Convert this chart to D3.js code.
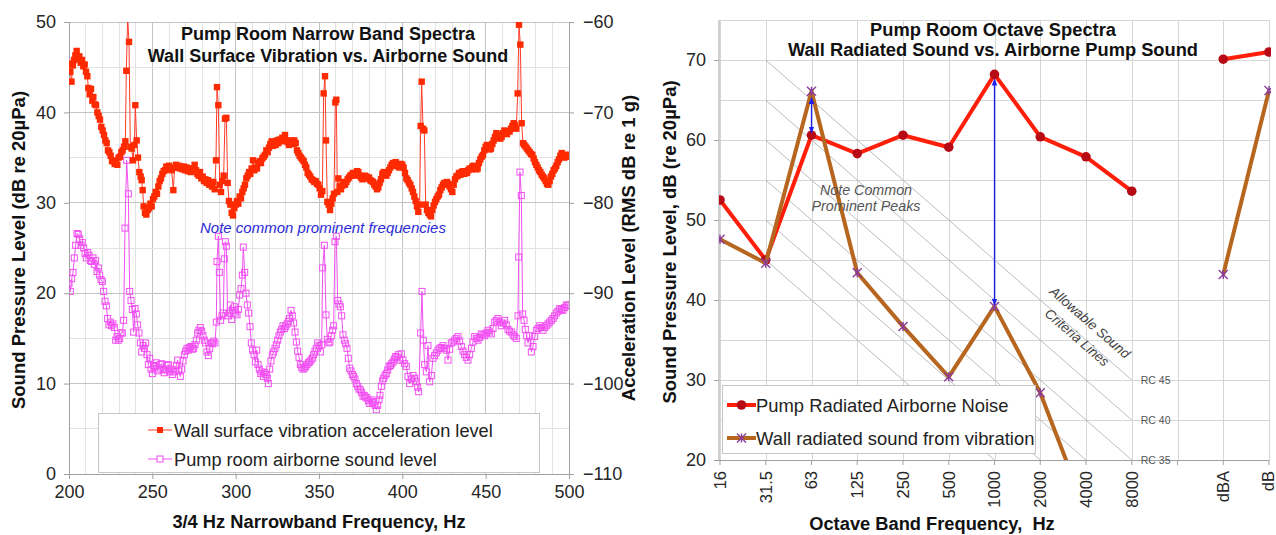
<!DOCTYPE html>
<html><head><meta charset="utf-8">
<script src="https://cdn.jsdelivr.net/npm/d3@7"></script>
<style>
body{margin:0;background:#fff}
svg{display:block}
text{font-family:"Liberation Sans",Arial,sans-serif}
</style>
</head><body>
<svg id="chart" width="1276" height="535"></svg>
<script>
// ===================== DATA =====================
// Left chart: narrowband spectra
const nbTicks = [200,250,300,350,400,450,500];
const splTicks = [0,10,20,30,40,50];
const accTicks = [-110,-100,-90,-80,-70,-60];

const vibFreq = [200,200.8,201.5,202.3,203,203.8,204.6,205.4,206.2,207,207.8,208.6,209.4,210.2,211,211.6,212.4,213.2,214,214.6,215.4,216.2,217,217.8,218.6,219.4,220.2,221,221.8,222.6,223.4,224.2,225,225.8,226.6,227.4,228.2,229,229.8,230.6,231.4,232.2,233,233.8,234.4,235.2,236,236.8,237.6,238.4,239.2,239.8,240.6,241.4,242.2,243,243.6,244.2,244.8,245.6,246.4,247.2,248,248.8,249.6,250.4,251.2,252,252.8,253.6,254.4,255.2,256,256.8,257.6,258.4,259.2,260,260.8,261.6,262.6,263.4,264.2,265,265.8,266.6,267.4,268.2,269,269.8,270.6,271.4,272.2,273,273.8,274.6,275.4,276.2,277,277.8,278.6,279.4,280.2,281,281.8,282.6,283.4,284.2,285,285.8,286.6,287.4,288.2,288.8,289.6,290.4,291.2,292,292.8,293.6,294.4,295.2,296,296.8,297.6,298.4,299.2,300,300.8,301.6,302.4,303.2,304,304.8,305.6,306.4,307.2,308,308.8,309.6,310.4,311.2,312,312.8,313.6,314.4,315.2,316,316.8,317.6,318.4,319.2,320,320.8,321.6,322.4,323.2,324,324.8,325.6,326.4,327.2,328,328.8,329.6,330.4,331.2,332,332.8,333.6,334.4,335.2,336,336.8,337.6,338.4,339.2,340,340.8,341.6,342.4,343.2,344,344.8,345.6,346.4,347.2,348,348.8,349.6,350.4,351.2,352,352.8,353.6,354.2,355,355.8,356.6,357.4,358.2,359,359.8,360.4,361,361.6,362.4,363.2,364,364.8,365.6,366.4,367.2,368,368.8,369.6,370.4,371.2,372,372.8,373.6,374.4,375.2,376,376.8,377.6,378.4,379.2,380,380.8,381.6,382.4,383.2,384,384.8,385.6,386.4,387.2,388,388.8,389.6,390.4,391.2,392,392.8,393.6,394.4,395.2,396,396.8,397.6,398.4,399.2,400,400.8,401.6,402.4,403.2,404,404.8,405.6,406.4,407.2,408,408.8,409.6,410.4,411,411.6,412.4,413.2,414,414.8,415.6,416.4,417.2,418,418.8,419.6,420.4,421.2,422,422.8,423.6,424.4,425.2,426,426.8,427.6,428.4,429.2,430,430.8,431.6,432.4,433.2,434,434.8,435.6,436.4,437.2,438,438.8,439.6,440.4,441.2,442,442.8,443.6,444.4,445.2,446,446.8,447.6,448.4,449.2,450,450.8,451.6,452.4,453.2,454,454.8,455.6,456.4,457.2,458,458.8,459.6,460.4,461.2,462,462.8,463.6,464.4,465.2,466,466.8,467.6,468.4,469.2,470,470.8,471.6,472.4,473.2,474,474.8,475.6,476.4,477.2,478,478.8,479.6,480.4,481.2,482,482.8,483.6,484.4,485.2,486,486.8,487.6,488.4,489.2,490,490.8,491.6,492.4,493.2,494,494.8,495.6,496.4,497.2,498,498.8,499.6];
const vibAccel = [-64.6,-65.5,-66.6,-64.8,-64.2,-63.7,-63.2,-64.1,-63.8,-64.5,-64.2,-64.9,-64.7,-65.5,-66.0,-67.3,-68.0,-67.4,-68.7,-68.3,-69.1,-69.2,-70.0,-70.4,-70.8,-71.6,-72.0,-72.5,-73.1,-73.4,-74.2,-74.4,-74.8,-75.4,-75.3,-75.7,-75.5,-75.8,-75.0,-74.9,-74.4,-74.2,-73.8,-73.2,-65.4,-59.5,-62.2,-73.8,-74.0,-75.3,-73.6,-69.2,-73.1,-75.0,-76.6,-77.1,-77.5,-78.6,-80.4,-81.1,-81.3,-80.8,-80.6,-80.1,-80.4,-79.6,-79.3,-78.8,-79.0,-78.2,-77.6,-77.3,-76.8,-76.5,-76.4,-76.0,-76.3,-75.9,-76.2,-76.4,-78.6,-76.1,-75.8,-76.1,-75.9,-76.2,-76.0,-76.3,-76.0,-76.4,-76.1,-76.5,-76.2,-76.6,-76.2,-76.5,-75.8,-76.4,-76.8,-77.0,-76.6,-77.3,-77.1,-77.6,-77.4,-77.8,-77.5,-78.0,-77.7,-78.2,-77.7,-78.5,-75.3,-67.2,-69.2,-78.0,-78.8,-77.6,-77.0,-70.7,-70.6,-77.8,-79.8,-80.2,-81.1,-81.4,-80.6,-80.2,-79.8,-80.1,-79.3,-79.5,-78.8,-78.4,-78.0,-77.3,-77.0,-76.6,-76.8,-76.2,-75.3,-76.4,-76.1,-76.2,-75.6,-75.4,-75.6,-75.1,-74.9,-74.7,-74.2,-74.4,-73.9,-73.5,-73.2,-73.7,-73.4,-73.6,-73.1,-73.4,-73.0,-73.2,-72.8,-73.0,-72.5,-73.1,-73.3,-73.6,-73.4,-73.1,-73.5,-73.1,-73.4,-74.2,-74.5,-74.8,-75.0,-75.2,-75.4,-75.8,-76.1,-76.7,-76.9,-77.1,-77.4,-77.5,-77.7,-77.6,-77.9,-78.0,-78.4,-79.1,-78.7,-67.9,-66.0,-73.1,-79.9,-80.2,-80.8,-80.1,-79.5,-79.0,-68.9,-68.6,-78.8,-77.3,-78.2,-78.5,-78.1,-77.7,-78.0,-77.7,-77.4,-77.2,-77.0,-76.9,-76.7,-77.0,-76.8,-76.5,-76.6,-77.0,-77.2,-77.4,-77.3,-77.0,-77.1,-77.3,-77.2,-77.5,-77.6,-77.7,-78.0,-78.2,-78.5,-78.3,-77.8,-77.4,-76.8,-76.6,-76.9,-77.0,-76.7,-76.4,-76.1,-75.8,-75.6,-75.9,-75.5,-75.8,-76.0,-76.1,-75.7,-75.8,-76.1,-76.7,-77.3,-77.5,-77.8,-78.0,-78.4,-78.8,-79.3,-79.8,-80.4,-81.0,-80.2,-71.5,-66.6,-71.8,-72.0,-80.2,-80.8,-81.1,-81.3,-81.5,-80.8,-80.3,-79.9,-79.6,-79.3,-79.1,-78.6,-78.3,-78.0,-77.8,-78.0,-77.7,-77.9,-78.2,-78.5,-78.8,-78.0,-77.4,-77.1,-77.0,-76.7,-76.9,-76.6,-76.5,-76.8,-76.6,-76.7,-76.4,-76.2,-76.3,-76.0,-75.9,-76.1,-76.3,-76.2,-75.6,-75.2,-74.9,-74.7,-74.2,-73.8,-73.6,-73.9,-74.1,-74.0,-73.5,-73.1,-72.7,-72.3,-72.5,-72.8,-72.9,-72.7,-72.3,-72.0,-72.2,-72.4,-72.1,-72.1,-71.8,-71.5,-71.2,-71.4,-71.8,-67.9,-60.3,-62.5,-71.2,-73.4,-73.6,-73.8,-74.0,-74.2,-74.4,-74.6,-74.7,-75.1,-75.5,-75.8,-76.1,-76.4,-76.6,-76.9,-77.1,-77.3,-77.6,-77.9,-78.0,-77.6,-77.1,-76.8,-76.4,-76.2,-75.9,-75.5,-75.2,-74.8,-74.5,-74.8,-75.0,-74.7,-74.9,-74.7];

const airFreq = [200,200.8,201.6,202.4,203.2,204,204.8,205.6,206.4,207.2,208,208.8,209.6,210.4,211.2,212,212.8,213.6,214.4,215.2,216,216.8,217.6,218.4,219.2,220,220.8,221.6,222.4,223.2,224,224.8,225.6,226.4,227.2,228,228.8,229.6,230.4,231.2,232,232.8,233.6,234.6,235.6,236.4,237.2,238,238.8,239.6,240.4,241.2,242,242.8,243.6,244.4,245.2,246,246.8,247.6,248.4,249.2,250,250.8,251.6,252.4,253.2,254,254.8,255.6,256.4,257.2,258,258.8,259.6,260.4,261.2,262,262.8,263.6,264.4,265.2,266,266.8,267.6,268.4,269.2,270,270.8,271.6,272.4,273.2,274,274.8,275.6,276.4,277.2,278,278.8,279.6,280.4,281.2,282,282.8,283.6,284.4,285.2,286,286.8,287.6,288.4,288.8,289.6,290.2,291,291.8,292.6,293.2,293.8,294.4,295.2,296,296.8,297.6,298.4,299.2,300,300.8,301.6,302.4,303.2,304,304.6,305.4,306.2,307,307.8,308.6,309.4,310.2,311,311.8,312.6,313.4,314.2,315,315.8,316.6,317.4,318.2,319,319.6,320.4,321.2,322,322.8,323.6,324.4,325.2,326,326.8,327.6,328.4,329.2,330,330.8,331.6,332.4,333.2,334,334.8,335.6,336.4,337.2,338,338.8,339.6,340.4,341.2,342,342.8,343.6,344.4,345.2,346,346.8,347.6,348.4,349.2,350,350.8,351.6,352.2,353.2,354.2,355,355.8,356.6,357.4,358.2,358.8,359.6,360.4,361.2,362,362.8,363.6,364.4,365.2,366,366.8,367.6,368.4,369.2,370,370.8,371.6,372.4,373.2,374,374.8,375.6,376.4,377.2,378,378.8,379.6,380.4,381.2,382,382.8,383.6,384.4,385.2,386,386.6,387.4,388.2,388.8,389.6,390.4,391.2,392,392.8,393.6,394.4,395.2,396,396.8,397.6,398.4,399.4,400.4,401.4,402.4,403.4,404.4,405.4,406.4,407.4,408.4,409.2,409.8,411,411.8,412.6,413.4,414.4,415.4,416.4,417.4,418.4,419.4,420.4,421.4,422.4,423.4,424.4,425.4,426.4,427.4,428.4,429.4,430.4,431.4,432.4,433.4,434.4,435.4,436.4,437.4,438.4,439.4,440.4,441.4,442.4,443.4,444.4,445.4,446.4,447.4,448.4,449.4,450.4,451.4,452.4,453.4,454.4,455.4,456.4,457.4,458.4,459.4,460.4,461.4,462.4,463.4,464.4,465.4,466.4,467.4,468.4,469.4,469.8,470.6,471.4,472.2,473,473.8,474.6,475.4,476.4,477.4,478.4,479.4,480.4,481.4,482.4,483.4,484.4,485.4,486.4,487.4,488.4,489.4,490.4,491.4,492.4,493.4,494.4,495.4,496.4,497.4,498.4,499.2,500];
const airSPL = [21.1,20.2,21.6,22.3,23.9,25.3,26.6,26.5,26.0,25.3,25.6,25.0,24.4,23.9,24.5,24.2,23.6,23.5,23.9,23.2,23.6,22.4,22.8,22.0,21.5,21.3,20.2,19.1,18.6,17.2,16.5,16.8,16.4,16.6,16.2,14.8,15.2,14.8,15.0,15.6,15.6,17.0,27.2,34.7,31.0,20.2,19.2,18.2,15.7,18.3,17.7,16.5,15.6,14.5,13.5,14.2,13.9,14.5,13.2,12.1,12.8,11.6,11.1,12.0,11.9,12.3,11.4,11.6,12.1,12.2,11.6,11.2,11.5,12.0,12.1,11.3,11.6,11.0,11.3,11.5,12.0,12.6,11.4,10.8,11.6,12.5,13.2,13.6,13.9,13.7,14.0,14.1,13.8,13.9,14.3,14.8,15.6,15.9,16.2,15.8,15.3,14.8,14.5,13.5,13.1,13.9,14.5,14.4,14.7,14.5,16.8,23.5,26.3,22.3,17.0,17.5,17.8,23.8,25.7,25.2,17.5,17.8,18.7,17.1,18.1,18.5,17.8,17.6,18.2,19.8,20.5,22.0,25.1,22.3,20.0,18.7,17.8,16.3,14.5,13.7,13.2,12.4,13.7,12.1,11.6,11.1,11.3,10.8,11.2,11.0,10.6,10.0,11.6,12.5,13.2,13.5,13.9,14.3,14.8,15.3,15.7,16.0,16.4,16.1,16.3,16.6,16.9,17.2,18.1,17.5,16.7,15.7,14.6,13.6,12.9,12.1,11.8,11.6,11.7,11.9,12.1,12.3,12.4,12.6,12.8,13.2,13.6,13.9,14.5,14.2,13.5,14.3,22.8,25.3,17.6,14.9,14.5,14.6,15.3,15.9,16.4,25.7,26.3,19.2,18.8,18.5,17.5,15.4,14.8,14.4,13.9,12.8,11.7,11.4,11.0,10.8,10.5,10.0,9.7,9.4,9.3,9.0,8.6,8.7,8.5,8.4,8.1,7.8,8.2,7.9,8.0,7.6,7.1,7.6,8.2,8.7,9.7,10.3,10.6,10.9,11.1,11.5,11.9,12.0,12.2,12.4,12.7,13.0,12.9,13.2,12.6,13.3,12.6,12.2,11.9,10.8,10.0,10.5,10.9,10.6,10.2,9.6,9.1,15.6,20.2,14.8,12.1,11.3,14.2,10.2,10.9,12.8,13.1,13.4,13.7,13.9,14.0,14.2,13.9,13.7,12.6,13.8,14.5,14.6,14.8,15.0,15.2,14.7,14.1,13.6,13.2,12.9,12.6,13.2,13.9,14.6,15.2,15.0,14.8,15.1,15.5,15.4,15.3,15.6,15.9,15.7,15.5,16.1,16.8,17.0,17.2,16.8,16.4,16.7,17.0,16.5,16.0,15.8,15.7,15.4,15.2,15.0,17.5,24.0,33.4,30.8,17.7,17.0,16.0,15.3,14.5,15.3,13.5,14.1,15.2,15.9,16.1,16.4,16.2,15.9,16.2,16.4,16.6,16.8,17.0,17.2,17.5,17.8,18.0,18.3,18.2,18.1,18.4,18.7,18.6,18.7];

const leftTitle = ["Pump Room Narrow Band Spectra", "Wall Surface Vibration vs. Airborne Sound"];
const leftLegend = ["Wall surface vibration acceleration level", "Pump room airborne sound level"];

// Right chart: octave spectra
const octaveBands = ["16","31.5","63","125","250","500","1000","2000","4000","8000"," ","dBA","dB"];
const pumpNoise  = [52.5,45.0,60.6,58.3,60.6,59.1,68.2,60.4,57.9,53.6,null,70.1,71.0];
const wallSound  = [47.6,44.6,66.1,43.4,36.7,30.4,39.2,28.4,13.5,6.0,null,43.2,66.2];
const octTicks = [20,30,40,50,60,70];
const rcLevels = [45,40,35,30,25,20];
const rcLabelled = [45,40,35];
const arrowBands = ["63","1000"];
const arrowLow = [60.9,39.4];
const arrowHigh = [65.3,67.6];
const rightTitle = ["Pump Room Octave Spectra", "Wall Radiated Sound vs. Airborne Pump Sound"];
const rightLegend = ["Pump Radiated Airborne Noise", "Wall radiated sound from vibration"];

// ===================== DRAW =====================
const svg = d3.select("#chart");
const defs = svg.append("defs");

// ---------- LEFT CHART ----------
const xL = d3.scaleLinear().domain([200,500]).range([69,569]);
const ySPL = d3.scaleLinear().domain([0,50]).range([474,22]);
const yAcc = d3.scaleLinear().domain([-110,-60]).range([474,22]);

defs.append("clipPath").attr("id","clipL").append("rect")
  .attr("x",69).attr("y",22).attr("width",500).attr("height",452);

const gL = svg.append("g");
const grid = gL.append("g").attr("shape-rendering","crispEdges");
grid.selectAll("line.v").data(d3.range(200,501,10)).join("line")
  .attr("x1",d=>xL(d)).attr("x2",d=>xL(d)).attr("y1",ySPL(0)).attr("y2",ySPL(50))
  .attr("stroke",d=>d%50===0?"#c4c4c4":"#e3e3e3");
grid.selectAll("line.h").data(d3.range(0,51,5)).join("line")
  .attr("x1",xL(200)).attr("x2",xL(500)).attr("y1",d=>ySPL(d)).attr("y2",d=>ySPL(d))
  .attr("stroke",d=>d%10===0?"#c4c4c4":"#e3e3e3");

function styleAxis(g, size){
  g.select(".domain").attr("stroke","#a0a0a0");
  g.selectAll(".tick line").attr("stroke","#a0a0a0");
  g.selectAll(".tick text").attr("fill","#262626").attr("font-size",size)
    .attr("font-family","'Liberation Sans',Arial,sans-serif");
}
gL.append("g").attr("transform","translate(69,0)")
  .call(d3.axisLeft(ySPL).tickValues(splTicks).tickSize(5).tickPadding(8).tickSizeOuter(0))
  .call(g=>styleAxis(g,18));
gL.append("g").attr("transform","translate(569,0)")
  .call(d3.axisRight(yAcc).tickValues(accTicks).tickSize(5).tickPadding(9).tickSizeOuter(0))
  .call(g=>styleAxis(g,18));
gL.append("g").attr("transform","translate(0,474)")
  .call(d3.axisBottom(xL).tickValues(nbTicks).tickSize(5).tickPadding(6).tickSizeOuter(0))
  .call(g=>styleAxis(g,18));

const series = gL.append("g").attr("clip-path","url(#clipL)");
const vibData = vibFreq.map((f,i)=>({f, v:vibAccel[i]}));
const airData = airFreq.map((f,i)=>({f, v:airSPL[i]}));

series.append("path").datum(airData)
  .attr("d", d3.line().x(d=>xL(d.f)).y(d=>ySPL(d.v)))
  .attr("fill","none").attr("stroke","#f050f0").attr("stroke-width",1);
series.selectAll("rect.air").data(airData).join("rect")
  .attr("x",d=>xL(d.f)-3).attr("y",d=>ySPL(d.v)-3).attr("width",6).attr("height",6)
  .attr("fill","none").attr("stroke","#f24ef2").attr("stroke-width",1);

series.append("path").datum(vibData)
  .attr("d", d3.line().x(d=>xL(d.f)).y(d=>yAcc(d.v)))
  .attr("fill","none").attr("stroke","#ff3c28").attr("stroke-width",1);
series.selectAll("rect.vib").data(vibData).join("rect")
  .attr("x",d=>xL(d.f)-3.2).attr("y",d=>yAcc(d.v)-3.2).attr("width",6.4).attr("height",6.4)
  .attr("fill","#ff2a00");

// titles
gL.selectAll("text.title").data(leftTitle).join("text")
  .attr("x",328).attr("y",(d,i)=>40+i*22).attr("text-anchor","middle")
  .attr("font-size",18).attr("font-weight","bold").attr("fill","#111").text(d=>d);

gL.append("text").attr("x",200).attr("y",233)
  .attr("font-family","'DejaVu Sans',Verdana,sans-serif").attr("font-style","italic")
  .attr("font-size",15).attr("fill","#2a2ad8").text("Note common prominent frequencies");

// legend
const legL = gL.append("g");
legL.append("rect").attr("x",98.5).attr("y",413.5).attr("width",441).attr("height",59)
  .attr("fill","#fff").attr("stroke","#c6c6c6");
leftLegend.forEach((t,i)=>{
  const y = 430 + i*29;
  const col = i===0 ? "#ff3c28" : "#f050f0";
  legL.append("line").attr("x1",148).attr("x2",172).attr("y1",y).attr("y2",y).attr("stroke",col);
  if(i===0) legL.append("rect").attr("x",157).attr("y",y-3).attr("width",6).attr("height",6).attr("fill","#ff2a00");
  else legL.append("rect").attr("x",157).attr("y",y-3).attr("width",6).attr("height",6).attr("fill","#fff").attr("stroke","#f24ef2");
  legL.append("text").attr("x",174).attr("y",y).attr("dy","0.36em").attr("font-size",18.2).attr("fill","#222").text(t);
});

// axis titles
gL.append("text").attr("transform","translate(25,250) rotate(-90)").attr("text-anchor","middle")
  .attr("font-size",18.5).attr("font-weight","bold").attr("fill","#111").text("Sound Pressure Level (dB re 20µPa)");
gL.append("text").attr("transform","translate(635,248) rotate(-90)").attr("text-anchor","middle")
  .attr("font-size",18.5).attr("font-weight","bold").attr("fill","#111").text("Acceleration Level (RMS dB re 1 g)");
gL.append("text").attr("x",319).attr("y",528).attr("text-anchor","middle")
  .attr("font-size",18.3).attr("font-weight","bold").attr("fill","#111").text("3/4 Hz Narrowband Frequency, Hz");

// ---------- RIGHT CHART ----------
const xO = d3.scalePoint().domain(octaveBands).range([720,1269]);
const yO = d3.scaleLinear().domain([20,75]).range([460,20]);
defs.append("clipPath").attr("id","clipR").append("rect")
  .attr("x",719).attr("y",19).attr("width",552).attr("height",441);

const gR = svg.append("g");
const gridR = gR.append("g").attr("shape-rendering","crispEdges");
gridR.selectAll("line.v").data(octaveBands).join("line")
  .attr("x1",d=>Math.round(xO(d))+0.5).attr("x2",d=>Math.round(xO(d))+0.5).attr("y1",yO(20)).attr("y2",yO(75))
  .attr("stroke","#d6d6d6");
gridR.selectAll("line.h").data(d3.range(20,76,5)).join("line")
  .attr("x1",xO("16")).attr("x2",xO("dB")).attr("y1",d=>yO(d)).attr("y2",d=>yO(d))
  .attr("stroke","#d6d6d6");

gR.append("g").attr("transform","translate(719,0)")
  .call(d3.axisLeft(yO).tickValues(octTicks).tickSize(5).tickPadding(8).tickSizeOuter(0))
  .call(g=>styleAxis(g,18))
  .call(g=>g.select(".domain").attr("d","M0,460V20"));
gR.append("line").attr("x1",719).attr("x2",1269).attr("y1",460.5).attr("y2",460.5).attr("stroke","#a0a0a0");
gR.selectAll("line.xt").data(octaveBands).join("line")
  .attr("x1",d=>xO(d)).attr("x2",d=>xO(d)).attr("y1",460).attr("y2",465).attr("stroke","#a0a0a0");
gR.selectAll("text.xl").data(octaveBands).join("text")
  .attr("transform",d=>`translate(${Math.min(xO(d),1268)},471) rotate(-90)`)
  .attr("text-anchor","end").attr("dy","0.36em").attr("font-size",16.5).attr("fill","#262626").text(d=>d);

const plotR = gR.append("g").attr("clip-path","url(#clipR)");
// RC criteria lines (-5 dB per octave, RC value at 1000 Hz)
const rcBands = octaveBands.slice(1,10);
plotR.selectAll("path.rc").data(rcLevels).join("path")
  .attr("d", rc => d3.line().x(b=>xO(b)).y(b=>yO(rc + 5*(6 - octaveBands.indexOf(b))))(rcBands))
  .attr("fill","none").attr("stroke","#bdbdbd").attr("stroke-width",1);

const pumpData = octaveBands.map((b,i)=>({b, v:pumpNoise[i]}));
const wallData = octaveBands.map((b,i)=>({b, v:wallSound[i]}));
const lineO = d3.line().defined(d=>d.v!=null).x(d=>xO(d.b)).y(d=>yO(d.v));

plotR.append("path").datum(pumpData).attr("d",lineO)
  .attr("fill","none").attr("stroke","#ff1e0a").attr("stroke-width",4).attr("stroke-linejoin","round");
plotR.selectAll("circle.p").data(pumpData.filter(d=>d.v!=null)).join("circle")
  .attr("cx",d=>xO(d.b)).attr("cy",d=>yO(d.v)).attr("r",4.8).attr("fill","#b80a14");

plotR.append("path").datum(wallData).attr("d",lineO)
  .attr("fill","none").attr("stroke","#b6661e").attr("stroke-width",4).attr("stroke-linejoin","round");
function star(g, x, y, s){
  g.append("path").attr("d",`M${x-s},${y-s}L${x+s},${y+s}M${x-s},${y+s}L${x+s},${y-s}M${x},${y-s}L${x},${y+s}`)
    .attr("stroke","#8a3c9c").attr("stroke-width",1.4).attr("fill","none");
}
wallData.filter(d=>d.v!=null && d.v>=20).forEach(d=>star(plotR, xO(d.b), yO(d.v), 4.5));

// arrows
const ah = defs.append("marker").attr("id","ah").attr("viewBox","0 0 10 10").attr("refX",9).attr("refY",5)
  .attr("markerWidth",7).attr("markerHeight",7).attr("orient","auto-start-reverse").attr("markerUnits","userSpaceOnUse");
ah.append("path").attr("d","M0,1L10,5L0,9Z").attr("fill","#1e1ef0");
gR.selectAll("line.arr").data(arrowBands).join("line")
  .attr("x1",d=>xO(d)).attr("x2",d=>xO(d))
  .attr("y1",(d,i)=>yO(arrowLow[i])).attr("y2",(d,i)=>yO(arrowHigh[i]))
  .attr("stroke","#1e1ef0").attr("stroke-width",1.3)
  .attr("marker-start","url(#ah)").attr("marker-end","url(#ah)");

// RC labels
gR.selectAll("text.rc").data(rcLabelled).join("text")
  .attr("x",xO("8000")+9).attr("y",rc=>yO(rc-15)).attr("dy","0.35em")
  .attr("font-size",10.5).attr("fill","#555").text(rc=>"RC "+rc);

// annotations
const noteR = ["Note Common","Prominent Peaks"];
gR.selectAll("text.note").data(noteR).join("text")
  .attr("x",866).attr("y",(d,i)=>195+i*16).attr("text-anchor","middle")
  .attr("font-family","'DejaVu Sans',Verdana,sans-serif").attr("font-style","italic")
  .attr("font-size",14.3).attr("fill","#555").text(d=>d);
const allowR = ["Allowable Sound","Criteria Lines"];
gR.selectAll("text.allow").data(allowR).join("text")
  .attr("transform",(d,i)=>`translate(${1087 - i*13},${326 + i*15}) rotate(41)`)
  .attr("text-anchor","middle")
  .attr("font-family","'DejaVu Sans',Verdana,sans-serif").attr("font-style","italic")
  .attr("font-size",13.6).attr("fill","#444").text(d=>d);

// titles
gR.selectAll("text.title").data(rightTitle).join("text")
  .attr("x",993).attr("y",(d,i)=>36+i*20).attr("text-anchor","middle")
  .attr("font-size",18.3).attr("font-weight","bold").attr("fill","#111").text(d=>d);

// legend
const legR = gR.append("g");
legR.append("rect").attr("x",722.5).attr("y",385.5).attr("width",313).attr("height",68)
  .attr("fill","#fff").attr("stroke","#c6c6c6");
rightLegend.forEach((t,i)=>{
  const y = 405 + i*33;
  const col = i===0 ? "#ff1e0a" : "#b6661e";
  legR.append("line").attr("x1",727).attr("x2",756).attr("y1",y).attr("y2",y).attr("stroke",col).attr("stroke-width",4);
  if(i===0) legR.append("circle").attr("cx",741.5).attr("cy",y).attr("r",4.8).attr("fill","#b80a14");
  else star(legR, 741.5, y, 4.5);
  legR.append("text").attr("x",756).attr("y",y).attr("dy","0.36em").attr("font-size",18.4).attr("fill","#222").text(t);
});

// axis titles
gR.append("text").attr("transform","translate(676,242) rotate(-90)").attr("text-anchor","middle")
  .attr("font-size",18.5).attr("font-weight","bold").attr("fill","#111").text("Sound Pressure Level, dB (re 20µPa)");
gR.append("text").attr("x",932).attr("y",530).attr("text-anchor","middle").attr("xml:space","preserve")
  .attr("font-size",18.3).attr("font-weight","bold").attr("fill","#111").text("Octave Band Frequency,  Hz");
</script>
</body></html>
